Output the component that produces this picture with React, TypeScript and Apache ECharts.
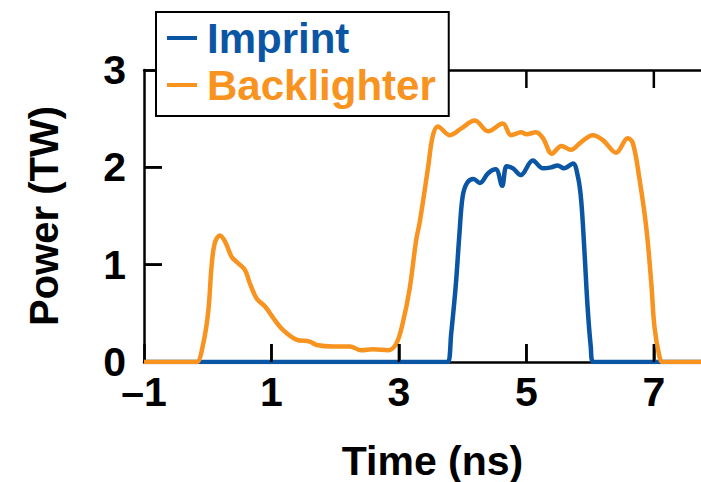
import React, { useEffect, useRef } from "react";
import * as echarts from "echarts";

// ---- data ----
const imprintTime = [-1, 3.7, 3.77, 3.82, 3.89, 3.95, 4.0, 4.07, 4.17, 4.27, 4.4, 4.52, 4.62, 4.69, 4.79, 4.91, 5.1, 5.26, 5.39, 5.49, 5.59, 5.73, 5.81, 5.86, 5.91, 5.96, 6.01, 6.05, 8];
const imprintPower = [0, 0, 0.0, 0.29, 0.77, 1.32, 1.7, 1.84, 1.88, 1.84, 1.94, 1.98, 1.81, 2.01, 1.99, 1.92, 2.07, 1.99, 2.0, 2.02, 1.99, 2.04, 1.9, 1.66, 1.15, 0.57, 0.16, 0, 0];

const backlighterTime = [-1, -0.25, -0.17, -0.07, 0.01, 0.06, 0.11, 0.19, 0.27, 0.375, 0.45, 0.58, 0.66, 0.77, 0.9, 1.03, 1.18, 1.39, 1.6, 1.71, 1.97, 2.23, 2.41, 2.59, 2.83, 2.96, 3.06, 3.17, 3.27, 3.33, 3.46, 3.53, 3.61, 3.8, 3.98, 4.19, 4.4, 4.63, 4.76, 4.92, 5.0, 5.15, 5.26, 5.4, 5.55, 5.7, 5.86, 6.04, 6.2, 6.41, 6.59, 6.67, 6.77, 6.88, 6.96, 7.01, 7.09, 7.14, 8];
const backlighterPower = [0, 0, 0, 0.19, 0.53, 0.98, 1.22, 1.3, 1.24, 1.08, 1.03, 0.95, 0.81, 0.65, 0.57, 0.45, 0.33, 0.23, 0.21, 0.175, 0.16, 0.16, 0.12, 0.13, 0.12, 0.19, 0.4, 0.76, 1.25, 1.45, 2.01, 2.32, 2.42, 2.33, 2.4, 2.48, 2.37, 2.45, 2.33, 2.36, 2.34, 2.36, 2.3, 2.14, 2.22, 2.18, 2.26, 2.33, 2.28, 2.15, 2.3, 2.25, 1.9, 1.39, 0.81, 0.36, 0.05, 0, 0];

const xTicks = [-1, 1, 3, 5, 7];
const yTicks = [0, 1, 2, 3];
const xMin = -1;
const xMax = 7.74;
const yMin = 0;
const yMax = 3;
const seriesNames = ["Imprint", "Backlighter"];
const xName = "Time (ns)";
const yName = "Power (TW)";

const BLUE = "#0b55a5";
const ORANGE = "#f7931e";
const FONT = "Liberation Sans";

// tick length expressed in data units (about 18 px on this grid)
const TICK_LEN_Y = 0.185; // in TW, for ticks on the horizontal axes
const TICK_LEN_X = 0.28; // in ns, for ticks on the vertical axis

function pairs(t: number[], v: number[]) {
  return t.map((x, i) => [x, v[i]]);
}

// inward tick marks as broken line segments, built from the tick arrays
function tickSegments() {
  const out: any[] = [];
  xTicks.filter((t) => t > xMin).forEach((t) => {
    out.push([t, yMin], [t, yMin + TICK_LEN_Y], ["-", "-"]);
    out.push([t, yMax], [t, yMax - TICK_LEN_Y], ["-", "-"]);
  });
  yTicks.filter((v) => v > yMin && v < yMax).forEach((v) => {
    out.push([xMin, v], [xMin + TICK_LEN_X, v], ["-", "-"]);
  });
  return out;
}

export default function App() {
  const ref = useRef<HTMLDivElement>(null);
  useEffect(() => {
    if (!ref.current) return;
    const chart = echarts.init(ref.current, null, { renderer: "svg" });
    const mkLine = () => ({ show: true, onZero: false, lineStyle: { color: "#000", width: 2.5 } });
    const labelFont = { fontFamily: FONT, fontWeight: "bold", fontSize: 41, color: "#000" };
    chart.setOption({
      animation: false,
      backgroundColor: "#fff",
      grid: { left: 144, right: 0, top: 70, bottom: 120, containLabel: false, outerBoundsMode: "none" },
      legend: {
        orient: "vertical",
        left: 156,
        top: 12,
        z: 20,
        backgroundColor: "#fff",
        borderColor: "#000",
        borderWidth: 2,
        borderRadius: 0,
        padding: [3, 13, 8, 11],
        itemGap: 1,
        itemWidth: 30,
        itemHeight: 4,
        icon: "rect",
        selectedMode: false,
        data: [
          { name: seriesNames[0], textStyle: { color: BLUE } },
          { name: seriesNames[1], textStyle: { color: ORANGE } },
        ],
        textStyle: {
          fontFamily: FONT,
          fontWeight: "bold",
          fontSize: 42,
          lineHeight: 46,
          padding: [0, 0, 0, 5],
        },
      },
      xAxis: [
        {
          type: "value",
          min: xMin,
          max: xMax,
          name: xName,
          nameLocation: "middle",
          nameGap: 78,
          nameTextStyle: { ...labelFont, padding: [0, 0, 0, 20] },
          axisLine: mkLine(),
          axisTick: { show: true, inside: true, length: 18, customValues: xTicks, lineStyle: { width: 2.5 } },
          splitLine: { show: false },
          axisLabel: {
            ...labelFont,
            customValues: xTicks,
            margin: 9,
            formatter: (v: number) => (v < 0 ? "\u2013" + Math.abs(v) : String(v)),
          },
        },
        {
          type: "value",
          position: "top",
          min: xMin,
          max: xMax,
          axisLine: mkLine(),
          axisTick: { show: false },
          axisLabel: { show: false },
          splitLine: { show: false },
        },
      ],
      yAxis: [
        {
          type: "value",
          min: yMin,
          max: yMax,
          interval: 1,
          name: yName,
          nameLocation: "middle",
          nameGap: 80,
          nameTextStyle: { ...labelFont, fontSize: 40 },
          axisLine: mkLine(),
          axisTick: { show: true, inside: true, length: 18, lineStyle: { width: 2.5 } },
          splitLine: { show: false },
          axisLabel: { ...labelFont, margin: 18 },
        },
      ],
      series: [
        {
          name: seriesNames[0],
          type: "line",
          data: pairs(imprintTime, imprintPower),
          smooth: 0.35,
          symbol: "none",
          lineStyle: { color: BLUE, width: 4.5 },
          itemStyle: { color: BLUE },
        },
        {
          name: seriesNames[1],
          type: "line",
          data: pairs(backlighterTime, backlighterPower),
          smooth: 0.35,
          symbol: "none",
          lineStyle: { color: ORANGE, width: 4.5 },
          itemStyle: { color: ORANGE },
        },
        {
          name: "axis ticks",
          type: "line",
          data: tickSegments(),
          connectNulls: false,
          symbol: "none",
          silent: true,
          z: 3,
          lineStyle: { color: "#000", width: 2.5, cap: "butt" },
          itemStyle: { color: "#000" },
        },
      ],
    });
    return () => chart.dispose();
  }, []);
  return <div ref={ref} style={{ width: 701, height: 482, position: "fixed", left: 0, top: 0 }} />;
}
